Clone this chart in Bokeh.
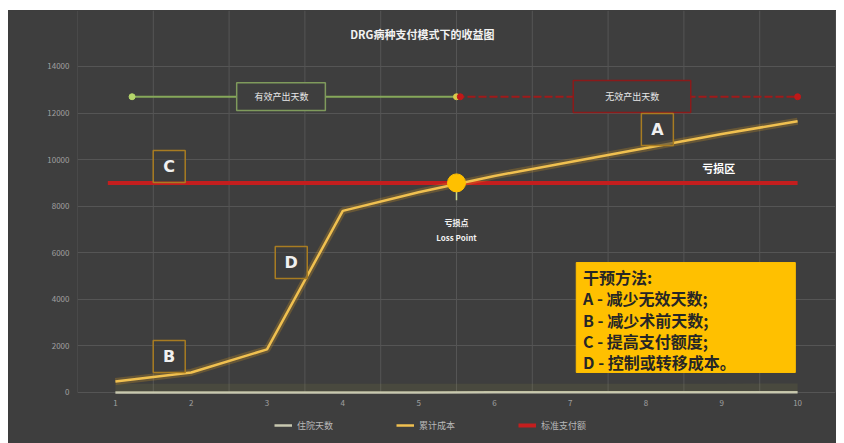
from bokeh.plotting import figure
from bokeh.models import Range1d, FixedTicker, Label, Legend, LegendItem
from bokeh.core.properties import value
from bokeh.embed import file_html
from bokeh.resources import INLINE

# ---- data ----
days = [1, 2, 3, 4, 5, 6, 7, 8, 9, 10]
day_labels = ["1", "2", "3", "4", "5", "6", "7", "8", "9", "10"]
hospital_days = [1, 2, 3, 4, 5, 6, 7, 8, 9, 10]          # 住院天数
cumulative_cost = [470, 860, 1850, 7800, 8600, 9300, 9900, 10500, 11100, 11650]  # 累计成本
standard_payment = [9000, 9000, 9000, 9000, 9000, 9000, 9000, 9000, 9000, 9000]  # 标准支付额
y_ticks = [0, 2000, 4000, 6000, 8000, 10000, 12000, 14000]
loss_x = [5.5]
loss_y = [9000]
effective_x = [1.22, 5.5]
ineffective_x = [5.5, 10]
period_y = [12700, 12700]

TITLE = "DRG病种支付模式下的收益图"
FONT = "Noto Sans CJK SC"
BG = "#3e3e3e"
GRID = "#555555"

p = figure(width=828, height=433, x_range=Range1d(0.5, 10.5), y_range=Range1d(-2190, 16403),
           output_backend="svg", toolbar_location=None, x_axis_location=None,
           min_border_left=69, min_border_right=1, min_border_top=0, min_border_bottom=0)
p.margin = (10, 8, 0, 8)
p.styles = {"background-color": BG}
p.background_fill_color = BG
p.border_fill_color = BG
p.outline_line_color = None

# y axis
p.yaxis.axis_line_color = None
p.yaxis.major_tick_line_color = None
p.yaxis.minor_tick_line_color = None
p.yaxis.major_label_text_color = "#a0a0a0"
p.yaxis.major_label_text_font_size = "8px"
p.yaxis.major_label_text_font = FONT
p.yaxis.ticker = FixedTicker(ticks=y_ticks)
p.yaxis.major_label_standoff = 2

p.xgrid.visible = False
p.ygrid.ticker = FixedTicker(ticks=y_ticks)
p.ygrid.grid_line_color = GRID
p.ygrid.grid_line_width = 1

# vertical grid lines between categories, stopping at the zero line
grid_x = [d - 0.5 for d in days] + [10.5]
p.segment(x0=grid_x, y0=[0] * len(grid_x), x1=grid_x, y1=[16403] * len(grid_x),
          line_color=GRID, line_width=1)

# x tick labels
p.text(x=days, y=[-430] * len(days), text=day_labels, text_align="center", text_baseline="middle",
       text_color="#a0a0a0", text_font_size="8px", text_font=value(FONT))

# top period arrows
p.line(effective_x, period_y, line_color="#86a85a", line_width=2)
p.scatter([effective_x[0]], [period_y[0]], size=6, color="#b5d66a")
p.line(ineffective_x, period_y, line_color="#a01a1a", line_width=2, line_dash="8 3")
p.scatter([ineffective_x[0]], [period_y[0]], size=6, color="#d8c84a")
p.scatter([ineffective_x[0] + 0.05, ineffective_x[1]], period_y, size=6, color="#c01818")

p.quad(left=[2.6], right=[3.77], bottom=[12110], top=[13300], fill_color=BG,
       line_color="#7f9a5c", line_width=1.5)
p.quad(left=[7.04], right=[8.59], bottom=[12020], top=[13400], fill_color=BG,
       line_color="#8a1a1a", line_width=1.5)
p.add_layout(Label(x=3.19, y=12700, text="有效产出天数", text_align="center", text_baseline="middle",
                   text_color="#e8e8e8", text_font_size="9px", text_font=FONT))
p.add_layout(Label(x=7.82, y=12700, text="无效产出天数", text_align="center", text_baseline="middle",
                   text_color="#e8e8e8", text_font_size="9px", text_font=FONT))

# series
r_days = p.line(days, hospital_days, line_color="#c8c8b0", line_width=2.5)
p.line(days, [v + 200 for v in hospital_days], line_color="#8c8a40", line_width=8, line_alpha=0.15)
r_pay = p.line([0.9] + days[1:], standard_payment, line_color="#c41e1e", line_width=4)
p.line(days, cumulative_cost, line_color="#e0a020", line_width=7, line_alpha=0.25)
r_cost = p.line(days, cumulative_cost, line_color="#f0c050", line_width=2.5)

# loss point
p.line([5.5, 5.5], [8250, 8700], line_color="#c8d890", line_width=1.5)
p.scatter(loss_x, loss_y, size=18, fill_color="#ffc000", line_color="#ffc000")
p.add_layout(Label(x=5.5, y=7300, text="亏损点", text_align="center", text_baseline="middle",
                   text_color="#f0f0f0", text_font_size="8px", text_font_style="bold", text_font=FONT))
p.add_layout(Label(x=5.5, y=6650, text="Loss Point", text_align="center", text_baseline="middle",
                   text_color="#f0f0f0", text_font_size="8px", text_font_style="bold", text_font=FONT))
p.add_layout(Label(x=8.96, y=9620, text="亏损区", text_align="center", text_baseline="middle",
                   text_color="#ffffff", text_font_size="11px", text_font_style="bold", text_font=FONT))

# letter boxes
letters = ["A", "B", "C", "D"]
letter_x = [8.15, 1.71, 1.71, 3.32]
letter_y = [11290, 1545, 9700, 5580]
p.rect(letter_x, letter_y, width=32, height=32, width_units="screen", height_units="screen",
       fill_color=BG, fill_alpha=0.6, line_color="#a87c22", line_width=1.5)
for t, lx, ly in zip(letters, letter_x, letter_y):
    p.add_layout(Label(x=lx, y=ly, text=t, text_align="center", text_baseline="middle",
                       text_color="#f0f0f0", text_font_size="16px", text_font_style="bold",
                       text_font="DejaVu Sans"))

# method box
p.quad(left=[7.08], right=[9.97], bottom=[860], top=[5580], fill_color="#ffc000", line_color="#ffc000")
methods = ["干预方法:", "A - 减少无效天数;", "B - 减少术前天数;", "C - 提高支付额度;", "D - 控制或转移成本。"]
method_y = [4950, 4040, 3130, 2230, 1330]
for t, my in zip(methods, method_y):
    p.add_layout(Label(x=7.17, y=my, text=t, text_align="left", text_baseline="middle",
                       text_color="#262626", text_font_size="16px", text_font_style="bold", text_font=FONT))

# title
p.add_layout(Label(x=5.05, y=15415, text=TITLE, text_align="center", text_baseline="middle",
                   text_color="#f2f2f2", text_font_size="11px", text_font_style="bold", text_font=FONT))

legend = Legend(items=[LegendItem(label="住院天数", renderers=[r_days]),
                       LegendItem(label="累计成本", renderers=[r_cost]),
                       LegendItem(label="标准支付额", renderers=[r_pay])],
                orientation="horizontal", location=(197, 8),
                background_fill_alpha=0, border_line_color=None,
                label_text_color="#b8b8b8", label_text_font_size="9px", label_text_font=FONT,
                glyph_width=18, spacing=63, padding=4, margin=0)
p.add_layout(legend, "center")

open("out.html", "w").write(file_html(p, INLINE))
